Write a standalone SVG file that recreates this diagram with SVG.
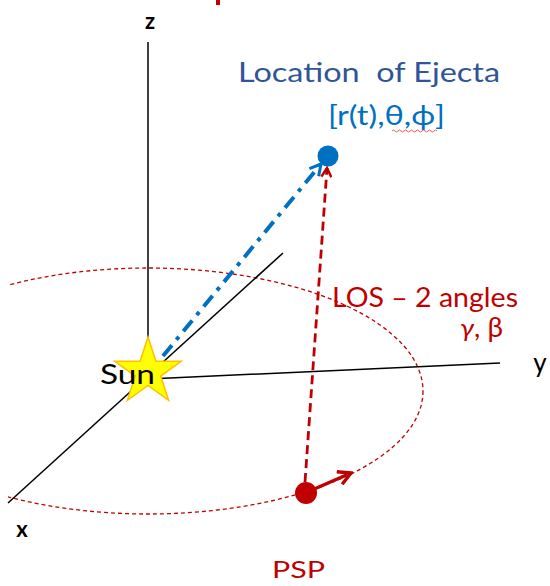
<svg xmlns="http://www.w3.org/2000/svg" width="550" height="586" viewBox="0 0 550 586">
  <style>
    .axis { stroke: #000; stroke-width: 1.5; fill: none; }
    .lbl { font-family: "Lato", "Liberation Sans", sans-serif; }
    .red { fill: #C00000; }
    .blue { fill: #2F5597; }
  </style>
  <defs>
    <clipPath id="clipL"><rect x="8" y="0" width="542" height="586"/></clipPath>
    <marker id="redHead" viewBox="0 0 12 12" refX="10" refY="6" markerWidth="12" markerHeight="12" markerUnits="userSpaceOnUse" orient="auto">
      <path d="M1,1 L10,6 L1,11" fill="none" stroke="#C00000" stroke-width="2.5"/>
    </marker>
    <marker id="pspHead" viewBox="0 0 14 14" refX="12" refY="7" markerWidth="16" markerHeight="16" markerUnits="userSpaceOnUse" orient="auto">
      <path d="M1,1 L12,7 L1,13" fill="none" stroke="#C00000" stroke-width="3"/>
    </marker>
    <marker id="blueHead" viewBox="0 0 14 14" refX="12" refY="7" markerWidth="14" markerHeight="14" markerUnits="userSpaceOnUse" orient="auto">
      <path d="M1,1 L12,7 L1,13" fill="none" stroke="#0070C0" stroke-width="3"/>
    </marker>
  </defs>
  <rect width="550" height="586" fill="#fff"/>
  <rect x="216" y="0" width="4" height="5" fill="#C00000"/>

  <g id="orbit">
    <ellipse cx="148" cy="391" rx="275" ry="123" fill="none" stroke="#C00000" stroke-width="1.3" stroke-dasharray="4 3" clip-path="url(#clipL)"/>
  </g>

  <g id="axes">
    <line class="axis" x1="148" y1="42" x2="148" y2="372"/>
    <line class="axis" x1="148" y1="379" x2="500" y2="363"/>
    <line class="axis" x1="283" y1="253" x2="8" y2="503"/>
    <text class="lbl" x="150" y="29" font-size="22" font-weight="bold" text-anchor="middle">z</text>
    <text class="lbl" x="540" y="372" font-size="26" text-anchor="middle">y</text>
    <text class="lbl" x="22" y="537" font-size="22" font-weight="bold" text-anchor="middle">x</text>
  </g>

  <g id="sun">
    <polygon points="148,337 155.9,361.2 181.3,361.2 160.7,376.1 168.6,400.3 148,385.4 127.4,400.3 135.3,376.1 114.7,361.2 140.1,361.2" fill="#FFFF00" stroke="#FFC000" stroke-width="1.5"/>
    <text class="lbl" x="100" y="384" font-size="26" textLength="55" lengthAdjust="spacingAndGlyphs">Sun</text>
  </g>

  <g id="connectors">
    <line x1="163" y1="356" x2="321" y2="164" stroke="#0070C0" stroke-width="4" stroke-dasharray="14 7 4 7" marker-end="url(#blueHead)"/>
    <line x1="305" y1="482" x2="327" y2="168" stroke="#C00000" stroke-width="2.8" stroke-dasharray="9 5" marker-end="url(#redHead)"/>
    <line x1="312" y1="490" x2="351" y2="473" stroke="#C00000" stroke-width="3.5" marker-end="url(#pspHead)"/>
  </g>

  <g id="ejecta">
    <circle cx="328" cy="156" r="10.5" fill="#0070C0"/>
    <text class="lbl blue" x="238" y="82" font-size="27" textLength="262" lengthAdjust="spacingAndGlyphs" xml:space="preserve">Location  of Ejecta</text>
    <text class="lbl" x="328" y="125" font-size="27" fill="#0070C0" textLength="117" lengthAdjust="spacingAndGlyphs">[r(t),θ,ϕ]</text>
    <path d="M392,131 q1.5,-2 3,0 t3,0 t3,0 t3,0 t3,0 t3,0 t3,0 t3,0 t3,0 t3,0 t3,0 t3,0 t3,0 t3,0 t3,0" fill="none" stroke="#E03030" stroke-width="0.8"/>
  </g>

  <g id="los">
    <text class="lbl red" x="332" y="307" font-size="26" textLength="186" lengthAdjust="spacingAndGlyphs">LOS – 2 angles</text>
    <text class="lbl red" x="460" y="337" font-size="26" textLength="43" lengthAdjust="spacingAndGlyphs"><tspan font-style="italic">γ</tspan>, β</text>
  </g>

  <g id="psp">
    <circle cx="306" cy="493" r="11" fill="#C00000"/>
    <text class="lbl red" x="272" y="578" font-size="24" textLength="53" lengthAdjust="spacingAndGlyphs">PSP</text>
  </g>
</svg>
